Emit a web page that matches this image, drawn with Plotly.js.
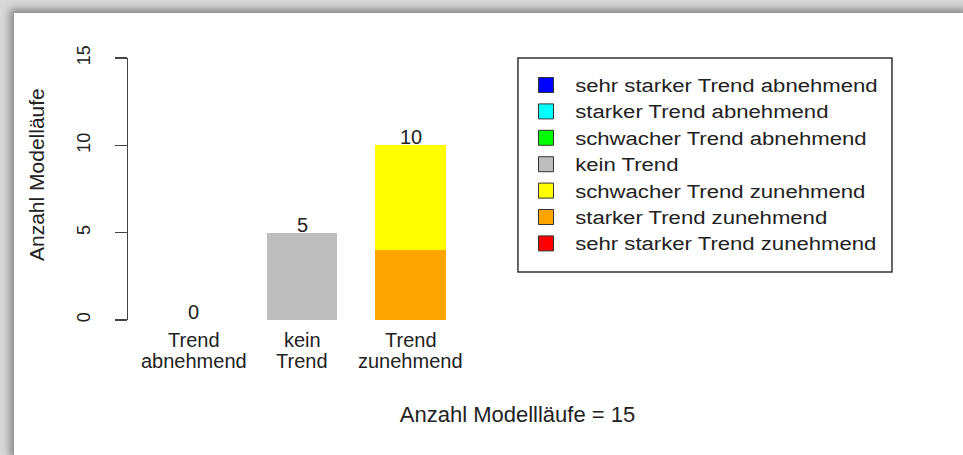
<!DOCTYPE html>
<html><head><meta charset="utf-8">
<script src="https://cdn.plot.ly/plotly-3.0.1.min.js"></script>
<style>
html,body{margin:0;padding:0;width:963px;height:455px;overflow:hidden;background:#d8d8d8;}
#frame{position:absolute;left:14px;top:13px;width:949px;height:442px;background:#fff;box-shadow:0 0 8px 4px rgba(0,0,0,0.38);}
#chart{position:absolute;left:0;top:0;width:963px;height:455px;}
#chart .legend .legendtext{transform:scaleX(1.23);}
#chart .legend, #chart .legend *{clip-path:none !important;}
</style></head><body>
<div id="frame"></div><div id="chart"></div>
<script>
// ---- data ----
const categories = ['Trend\nabnehmend', 'kein\nTrend', 'Trend\nzunehmend'];
const yTicks = [0, 5, 10, 15];

const seriesNames = [
  'sehr starker Trend abnehmend',
  'starker Trend abnehmend',
  'schwacher Trend abnehmend',
  'kein Trend',
  'schwacher Trend zunehmend',
  'starker Trend zunehmend',
  'sehr starker Trend zunehmend'
];
const seriesColors = ['#0000FF', '#00FFFF', '#00FF00', '#BEBEBE', '#FFFF00', '#FFA500', '#FF0000'];

const sehrStarkAbnehmend   = [0, 0, 0];
const starkAbnehmend       = [0, 0, 0];
const schwachAbnehmend     = [0, 0, 0];
const keinTrend            = [0, 5, 0];
const schwachZunehmend     = [0, 0, 6];
const starkZunehmend       = [0, 0, 4];
const sehrStarkZunehmend   = [0, 0, 0];
const seriesValues = [sehrStarkAbnehmend, starkAbnehmend, schwachAbnehmend, keinTrend,
                      schwachZunehmend, starkZunehmend, sehrStarkZunehmend];

// ---- build traces ----
const xPos = categories.map((c, i) => i);
const totals = xPos.map(i => seriesValues.reduce((s, v) => s + v[i], 0));
const nRuns = totals.reduce((a, b) => a + b, 0);

const traces = [];
// stacking order: last series at the bottom (as in the R barplot)
for (let k = seriesValues.length - 1; k >= 0; k--) {
  traces.push({
    type: 'bar', x: xPos, y: seriesValues[k], name: seriesNames[k],
    width: 0.65, marker: {color: seriesColors[k], line: {width: 0}},
    showlegend: false, hoverinfo: 'skip'
  });
}
// legend entries
seriesNames.forEach((n, k) => {
  traces.push({
    type: 'scatter', mode: 'markers', x: [null], y: [null], name: n,
    marker: {symbol: 'square', size: 15, color: seriesColors[k], line: {color: '#333', width: 1}},
    showlegend: true, hoverinfo: 'skip'
  });
});

const FONT = 'Liberation Sans, Arial, Helvetica, sans-serif';
const annotations = [];
// totals on top of the bars
xPos.forEach(i => {
  annotations.push({
    text: String(totals[i]), x: i, xref: 'x', y: totals[i], yref: 'y', showarrow: false,
    xanchor: 'center', yanchor: 'bottom', yshift: -5, font: {size: 20, color: '#222', family: FONT}
  });
});
categories.forEach((c, i) => {
  const lines = c.split('\n');
  const ys = [-0.0763, -0.1565];
  lines.forEach((ln, j) => {
    annotations.push({
      text: ln, x: i, xref: 'x', y: ys[j], yref: 'paper', showarrow: false,
      xanchor: 'center', yanchor: 'middle', font: {size: 20, color: '#222', family: FONT}
    });
  });
});
annotations.push({
  text: 'Anzahl Modelläufe', x: -0.1181, xref: 'paper', y: 0.5534, yref: 'paper',
  showarrow: false, textangle: -90, xanchor: 'center', yanchor: 'middle',
  font: {size: 21, color: '#222', family: FONT}
});

const layout = {
  width: 963, height: 455,
  margin: {l: 128, r: 56, t: 58, b: 135, pad: 0},
  paper_bgcolor: 'rgba(0,0,0,0)', plot_bgcolor: 'rgba(0,0,0,0)',
  font: {family: FONT, color: '#222'},
  barmode: 'stack',
  showlegend: true,
  legend: {
    x: 0.5109, y: 0.9664, xanchor: 'left', yanchor: 'top',
    bgcolor: 'rgba(0,0,0,0)', borderwidth: 0, traceorder: 'normal',
    font: {size: 18, color: '#222', family: FONT}, itemwidth: 30
  },
  xaxis: {
    range: [-0.6037, 6.576], showline: false, showticklabels: false, ticks: '',
    showgrid: false, zeroline: false, fixedrange: true,
    title: {text: 'Anzahl Modellläufe = ' + nRuns, font: {size: 22, color: '#222'}, standoff: 86}
  },
  yaxis: {
    range: [0, 15], tickvals: yTicks, ticktext: yTicks.map(String), tickangle: -90,
    showline: true, linecolor: '#444', linewidth: 1.5, ticks: 'outside', ticklen: 12,
    tickcolor: '#444', tickwidth: 1.5, showgrid: false, zeroline: false,
    tickfont: {size: 18, color: '#222'}, ticklabelstandoff: 17, fixedrange: true
  },
  shapes: [{
    type: 'rect', xref: 'paper', yref: 'paper', x0: 0.5006, x1: 0.9807, y0: 0.1832, y1: 1.0,
    line: {color: '#333', width: 1.5}, fillcolor: 'rgba(0,0,0,0)'
  }],
  annotations: annotations
};

Plotly.newPlot('chart', traces, layout, {staticPlot: true, displayModeBar: false});
</script></body></html>
